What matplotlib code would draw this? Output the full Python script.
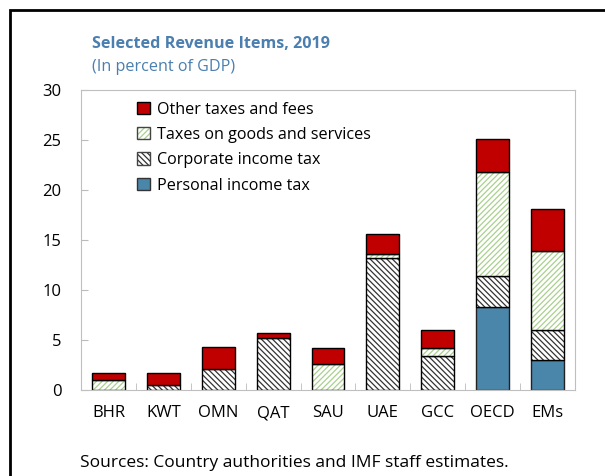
import numpy as np
import matplotlib
matplotlib.use('Agg')
import matplotlib.pyplot as plt
from matplotlib.patches import Patch, Rectangle
from matplotlib.legend_handler import HandlerTuple

plt.rcParams['font.family'] = ['Open Sans', 'DejaVu Sans']
plt.rcParams['hatch.linewidth'] = 0.9

categories = ['BHR', 'KWT', 'OMN', 'QAT', 'SAU', 'UAE', 'GCC', 'OECD', 'EMs']
personal = [0, 0, 0, 0, 0, 0, 0, 8.3, 3.05]
corporate = [0, 0.55, 2.1, 5.2, 0, 13.2, 3.4, 3.1, 3.0]
goods = [1.05, 0, 0, 0, 2.6, 0.45, 0.85, 10.4, 7.9]
other = [0.65, 1.2, 2.2, 0.5, 1.6, 2.0, 1.75, 3.35, 4.15]

blue = '#4a86aa'
red = '#c00000'
green = '#a9d08e'

fig = plt.figure(figsize=(6.05, 4.76), dpi=100)
ax = fig.add_axes([81/605, 86/476, 494/605, 300/476])

x = np.arange(len(categories))
w = 0.6
p = np.array(personal)
c = np.array(corporate)
g = np.array(goods)
o = np.array(other)

mask = p > 0
ax.bar(x[mask], p[mask], w, color=blue, edgecolor='#222222', linewidth=1)
# corporate: dark hatch
mask = c > 0
ax.bar(x[mask], c[mask], w, bottom=p[mask], color='white', edgecolor='#333333',
       hatch='\\\\\\\\\\\\', linewidth=0)
ax.bar(x[mask], c[mask], w, bottom=p[mask], fill=False, edgecolor='black', linewidth=1)
# goods: green hatch
mask = g > 0
ax.bar(x[mask], g[mask], w, bottom=(p + c)[mask], color='white', edgecolor=green,
       hatch='//////', linewidth=0)
ax.bar(x[mask], g[mask], w, bottom=(p + c)[mask], fill=False, edgecolor='black', linewidth=1)
ax.bar(x, o, w, bottom=p + c + g, color=red, edgecolor='black', linewidth=1)

ax.set_xlim(-0.5, len(categories) - 0.5)
ax.set_ylim(0, 30)
ax.set_yticks(range(0, 31, 5))
ax.set_xticks(x)
ax.set_xticklabels(categories)
ax.set_xticks(np.arange(0.5, len(categories) - 1, 1), minor=True)
ax.tick_params(axis='x', which='major', length=0, pad=11, labelsize=12)
ax.tick_params(axis='x', which='minor', direction='in', length=5, color='#bbbbbb')
ax.tick_params(axis='y', direction='in', length=5, color='#bbbbbb', pad=14, labelsize=12)
for s in ax.spines.values():
    s.set_color('#bfbfbf')

h_other = Patch(facecolor=red, edgecolor='black')
h_goods = (Patch(facecolor='white', edgecolor=green, hatch='//////', linewidth=0),
           Patch(fill=False, edgecolor='#444444'))
h_corp = (Patch(facecolor='white', edgecolor='#333333', hatch='\\\\\\\\\\\\', linewidth=0),
          Patch(fill=False, edgecolor='#444444'))
h_pers = Patch(facecolor=blue, edgecolor='#333333')
ax.legend([h_other, h_goods, h_corp, h_pers],
          ['Other taxes and fees', 'Taxes on goods and services',
           'Corporate income tax', 'Personal income tax'],
          handler_map={tuple: HandlerTuple(ndivide=1)},
          loc='upper left', bbox_to_anchor=(0.085, 1.01), frameon=False,
          fontsize=11.6, handlelength=0.8, handleheight=0.8, handletextpad=0.4,
          labelspacing=0.58)

fig.text(92/605, 1 - 44/476, 'Selected Revenue Items, 2019', color='#4a7fb0',
         fontsize=11.6, fontweight='bold', va='center')
fig.text(92/605, 1 - 67/476, '(In percent of GDP)', color='#4a7fb0',
         fontsize=11.6, va='center')
fig.text(80/605, 1 - 463/476, 'Sources: Country authorities and IMF staff estimates.',
         fontsize=12.5, va='center')

# outer frame (left and top edges visible)
fig.add_artist(Rectangle((10/605, -0.1), 1.0, 1 - 10/476 + 0.1, transform=fig.transFigure,
                         fill=False, edgecolor='black', linewidth=2, clip_on=False))

fig.savefig('out.png', dpi=100)
